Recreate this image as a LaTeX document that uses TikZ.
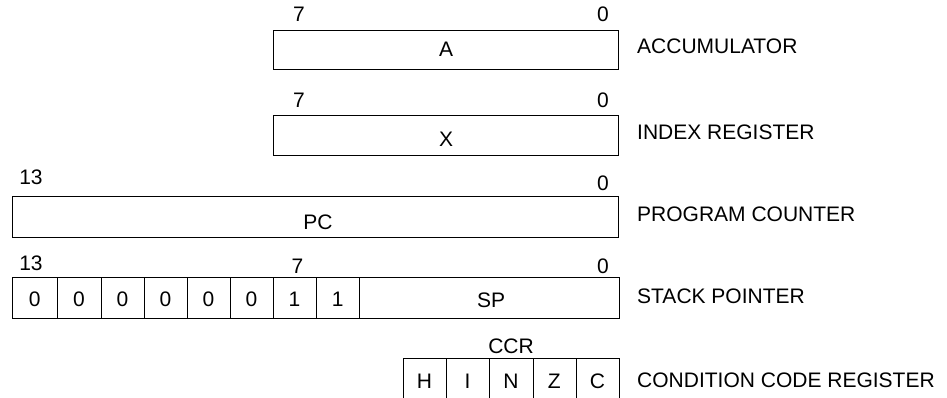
\documentclass[tikz,border=0pt]{standalone}
\usepackage{fontspec}
\setmainfont{Liberation Sans}
\begin{document}
\begin{tikzpicture}[x=1pt,y=-1pt,
  reg/.style={draw, line width=1.1pt, inner sep=0pt, anchor=north west},
  lbl/.style={font=\fontsize{21}{24}\selectfont, inner sep=0pt, anchor=base},
  rlbl/.style={font=\fontsize{21}{24}\selectfont, inner sep=0pt, anchor=base west},
  txt/.style={font=\fontsize{21}{24}\selectfont, inner sep=0pt, anchor=base}]
\useasboundingbox (0,0) rectangle (947,398);
\clip (0,0) rectangle (947,398);
% Accumulator
\node[reg, minimum width=345pt, minimum height=39pt] (A) at (273,30) {};
\node[txt] (At) at (446,57) {A};
\node[lbl] (A7) at (299,22) {7};
\node[lbl] (A0) at (603,22) {0};
\node[rlbl] (Al) at (637,53.5) {ACCUMULATOR};
% Index
\node[reg, minimum width=345pt, minimum height=40pt] (X) at (273,115) {};
\node[txt] (Xt) at (446,147) {X};
\node[lbl] (X7) at (299,108) {7};
\node[lbl] (X0) at (603,108) {0};
\node[rlbl] (Xl) at (637,140) {INDEX REGISTER};
% PC
\node[reg, minimum width=606pt, minimum height=41pt] (PC) at (12,196) {};
\node[txt] (PCt) at (318,229) {PC};
\node[lbl] (PC13) at (31,185) {13};
\node[lbl] (PC0) at (603,190) {0};
\node[rlbl] (PCl) at (637,222) {PROGRAM COUNTER};
% SP
\foreach \i/\xa/\xb/\v in {1/12/57.3/0, 2/57.3/100.7/0, 3/100.7/144/0, 4/144/186.7/0, 5/186.7/230/0, 6/230/272.7/0, 7/272.7/316/1, 8/316/359.3/1}{
  \node[reg, minimum width=\xb pt-\xa pt, minimum height=41pt] (s\i) at (\xa,277) {};
  \node[txt] (s\i t) at ({(\xa+\xb)/2},306) {\v};
}
\node[reg, minimum width=259.3pt, minimum height=41pt] (SP) at (359.3,277) {};
\node[txt] (SPt) at (491,307) {SP};
\node[lbl] (SP13) at (31,270) {13};
\node[lbl] (SP7) at (297.5,273) {7};
\node[lbl] (SP0) at (603,273) {0};
\node[rlbl] (SPl) at (637,303) {STACK POINTER};
% CCR
\foreach \i/\xa/\xb/\v in {1/402.7/446/H, 2/446/489.3/I, 3/489.3/532.7/N, 4/532.7/576/Z, 5/576/618.7/C}{
  \node[reg, minimum width=\xb pt-\xa pt, minimum height=45pt] (c\i) at (\xa,358) {};
  \node[txt] (c\i t) at ({(\xa+\xb)/2},388) {\v};
}
\node[lbl] (CCR) at (511,353) {CCR};
\node[rlbl] (CCRl) at (637,387) {CONDITION CODE REGISTER};
\end{tikzpicture}
\end{document}
